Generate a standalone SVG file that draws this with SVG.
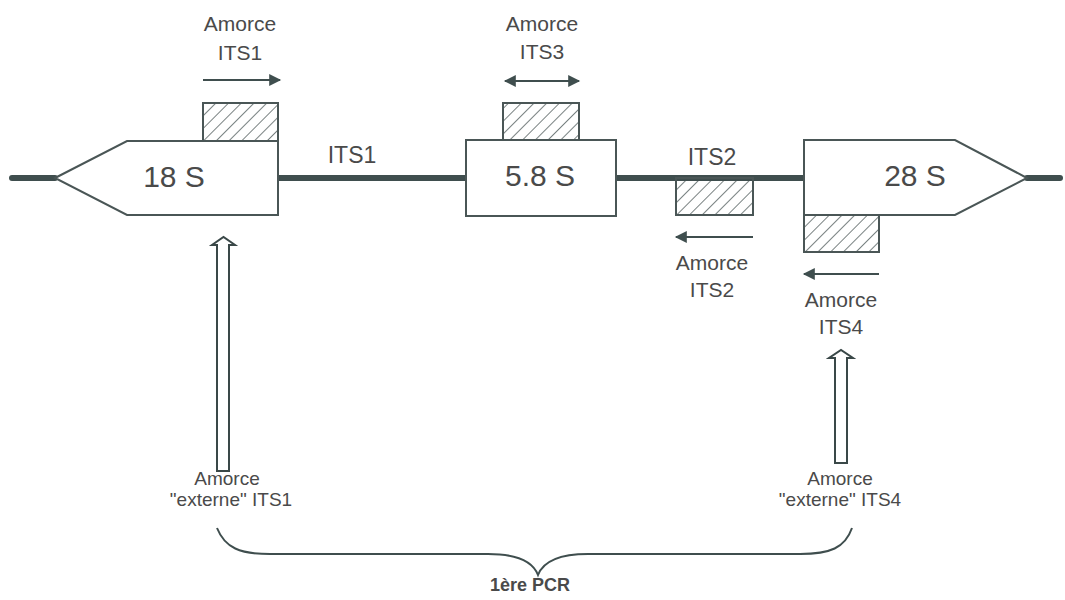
<svg xmlns="http://www.w3.org/2000/svg" width="1065" height="600" viewBox="0 0 1065 600">
<defs>
<pattern id="hatch" patternUnits="userSpaceOnUse" width="9" height="9" patternTransform="rotate(45)">
<line x1="0" y1="0" x2="0" y2="9" stroke="#3f4c4c" stroke-width="1.4"/>
</pattern>
<marker id="ah2" viewBox="0 0 10 10" refX="9" refY="5" markerWidth="14" markerHeight="12" markerUnits="userSpaceOnUse" orient="auto-start-reverse">
<path d="M0,0 L10,5 L0,10 z" fill="#3f4e4e"/>
</marker>
</defs>
<style>
.box{fill:#fff;stroke:#4a5656;stroke-width:2}
.hatch{fill:url(#hatch);stroke:#4a5656;stroke-width:2}
.dna{stroke:#3f4e4e;stroke-width:6;stroke-linecap:round;fill:none}
.arr{stroke:#3f4e4e;stroke-width:2;fill:none}
.t{font-family:"Liberation Sans",Arial,sans-serif;fill:#4a4a4a;text-anchor:middle}
.s{font-size:21px}
.x{font-size:19px}
.m{font-size:23px}
.big{font-size:30px}
.hol{fill:#fff;stroke:#3a4848;stroke-width:2}
</style>
<rect width="1065" height="600" fill="#fff"/>
<g id="connectors">
<line class="dna" x1="12" y1="178" x2="55" y2="178"/>
<line class="dna" x1="278" y1="178" x2="466" y2="178"/>
<line class="dna" x1="616" y1="178" x2="804" y2="178"/>
<line class="dna" x1="1027" y1="178" x2="1060" y2="178"/>
<line class="arr" x1="203" y1="80" x2="280" y2="80" marker-end="url(#ah2)"/>
<line class="arr" x1="505" y1="81" x2="579" y2="81" marker-start="url(#ah2)" marker-end="url(#ah2)"/>
<line class="arr" x1="753" y1="237" x2="676" y2="237" marker-end="url(#ah2)"/>
<line class="arr" x1="879" y1="274" x2="804" y2="274" marker-end="url(#ah2)"/>
</g>
<g id="n18S">
<polygon class="box" points="55,178 127,141 278,141 278,215 127,215"/>
<text class="t big" x="174" y="187">18 S</text>
</g>
<g id="n58S">
<rect class="box" x="466" y="140" width="150" height="76"/>
<text class="t big" x="540" y="186">5.8 S</text>
</g>
<g id="n28S">
<polygon class="box" points="804,140 955,140 1027,178 955,215 804,215"/>
<text class="t big" x="915" y="186">28 S</text>
</g>
<g id="its1label"><text class="t m" x="352" y="163">ITS1</text></g>
<g id="its2label"><text class="t m" x="712" y="165">ITS2</text></g>
<g id="primerITS1">
<rect class="hatch" x="203" y="103" width="75" height="38"/>
<text class="t s" x="240" y="31">Amorce</text>
<text class="t s" x="240" y="60">ITS1</text>
</g>
<g id="primerITS3">
<rect class="hatch" x="503" y="103" width="76" height="37"/>
<text class="t s" x="542" y="31">Amorce</text>
<text class="t s" x="542" y="59">ITS3</text>
</g>
<g id="primerITS2">
<rect class="hatch" x="676" y="178" width="77" height="37"/>
<text class="t s" x="712" y="270">Amorce</text>
<text class="t s" x="712" y="297">ITS2</text>
</g>
<g id="primerITS4">
<rect class="hatch" x="804" y="215" width="75" height="37"/>
<text class="t s" x="841" y="307">Amorce</text>
<text class="t s" x="841" y="334">ITS4</text>
</g>
<g id="extITS1">
<path class="hol" d="M217,471 L217,245 L212,245 L223.5,237 L235,245 L229,245 L229,471 Z"/>
<text class="t x" x="227" y="485">Amorce</text>
<text class="t x" x="231" y="506">"externe" ITS1</text>
</g>
<g id="extITS4">
<path class="hol" d="M835,463 L835,358 L829,358 L841,350 L853,358 L847,358 L847,463 Z"/>
<text class="t x" x="840" y="485">Amorce</text>
<text class="t x" x="840" y="506">"externe" ITS4</text>
</g>
<g id="pcr">
<path d="M217,528 C225,548 240,554 270,554 L488,554 C518,554 533,562 538,575 C543,562 558,554 588,554 L800,554 C830,554 845,548 852,528" fill="none" stroke="#3f4e4e" stroke-width="2"/>
<text class="t" x="530" y="591" font-size="18" font-weight="bold" fill="#404040">1ère PCR</text>
</g>
</svg>
